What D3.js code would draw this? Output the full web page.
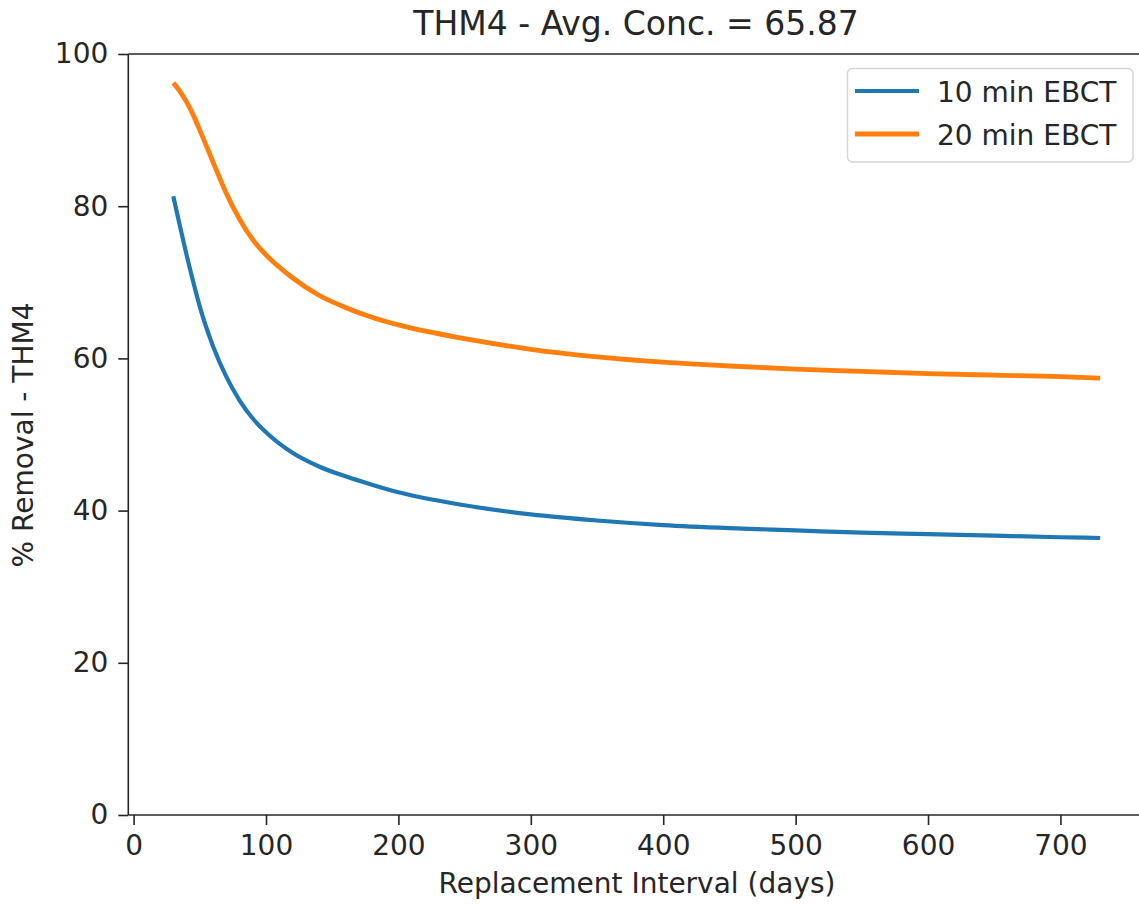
<!DOCTYPE html>
<html>
<head>
<meta charset="utf-8">
<script src="https://cdn.jsdelivr.net/npm/d3@7"></script>
<style>
  body { margin: 0; background: #fff; }
  svg text { font-family: "DejaVu Sans", sans-serif; fill: #262626; }
</style>
</head>
<body>
<svg id="chart" width="1139" height="904"></svg>
<script>
// replacement interval (days)
days = [30, 35, 40, 45, 50, 60, 70, 80, 90, 100, 120, 140, 160, 180, 200, 250, 300, 350, 400, 450, 500, 550, 600, 650, 700, 730];
// % removal, 10 min EBCT
ebct10 = [81.3, 77.4, 73.6, 70.1, 66.8, 61.6, 57.6, 54.5, 52.1, 50.3, 47.6, 45.8, 44.5, 43.4, 42.4, 40.7, 39.5, 38.7, 38.1, 37.7, 37.4, 37.1, 36.9, 36.7, 36.5, 36.4];
// % removal, 20 min EBCT
ebct20 = [96.2, 95.1, 93.7, 92.0, 90.0, 85.8, 81.7, 78.3, 75.6, 73.6, 70.6, 68.3, 66.7, 65.4, 64.4, 62.6, 61.2, 60.2, 59.5, 59.0, 58.6, 58.3, 58.0, 57.8, 57.6, 57.4];
seriesNames = ["10 min EBCT", "20 min EBCT"];
xTicks = [0, 100, 200, 300, 400, 500, 600, 700];
yTicks = [0, 20, 40, 60, 80, 100];

var svg = d3.select("#chart");
// plot box (the right spine sits just outside the frame)
var plotL = 128.3, plotR = 1146.5, plotT = 54, plotB = 815;

var x = d3.scaleLinear().domain([-4, 765]).range([plotL, plotR]);
var y = d3.scaleLinear().domain([0, 100]).range([plotB, plotT]);

// axes
var xAxis = svg.append("g")
  .attr("transform", "translate(0," + plotB + ")")
  .call(d3.axisBottom(x).tickValues(xTicks).tickSizeInner(10).tickSizeOuter(0).tickPadding(10));
var yAxis = svg.append("g")
  .attr("transform", "translate(" + plotL + ",0)")
  .call(d3.axisLeft(y).tickValues(yTicks).tickSizeInner(10).tickSizeOuter(0).tickPadding(10));

[xAxis, yAxis].forEach(function(g) {
  g.select(".domain").remove();
  g.selectAll(".tick line").attr("stroke", "#262626").attr("stroke-width", 1.6);
  g.selectAll(".tick text").attr("font-size", 28).attr("fill", "#262626")
    .style("font-family", "DejaVu Sans, sans-serif");
});

// spines
svg.append("line").attr("x1", plotL).attr("x2", plotL).attr("y1", plotT).attr("y2", plotB)
  .attr("stroke", "#262626").attr("stroke-width", 1.6);
svg.append("line").attr("x1", plotL).attr("x2", plotR).attr("y1", plotB).attr("y2", plotB)
  .attr("stroke", "#262626").attr("stroke-width", 1.6);
svg.append("line").attr("x1", plotL).attr("x2", plotR).attr("y1", plotT).attr("y2", plotT)
  .attr("stroke", "#262626").attr("stroke-width", 1.6);

// lines
var line = d3.line()
  .x(function(d) { return x(d[0]); })
  .y(function(d) { return y(d[1]); })
  .curve(d3.curveMonotoneX);

var colors = ["#1f77b4", "#ff7f0e"];
var widths = [4.2, 4.8];
[ebct10, ebct20].forEach(function(vals, i) {
  svg.append("path")
    .datum(days.map(function(d, j) { return [d, vals[j]]; }))
    .attr("fill", "none")
    .attr("stroke", colors[i])
    .attr("stroke-width", widths[i])
    .attr("d", line);
});

// title and labels
svg.append("text").attr("x", 636).attr("y", 35).attr("text-anchor", "middle")
  .attr("font-size", 33).text("THM4 - Avg. Conc. = 65.87");
svg.append("text").attr("x", 637).attr("y", 893).attr("text-anchor", "middle")
  .attr("font-size", 28).text("Replacement Interval (days)");
svg.append("text").attr("transform", "translate(33,435) rotate(-90)").attr("text-anchor", "middle")
  .attr("font-size", 28).text("% Removal - THM4");

// legend
var legend = svg.append("g");
legend.append("rect").attr("x", 847.5).attr("y", 68.5).attr("width", 285.5).attr("height", 93.5)
  .attr("rx", 5).attr("fill", "#fff").attr("fill-opacity", 0.8)
  .attr("stroke", "#d6d6d6").attr("stroke-width", 1.5);
seriesNames.forEach(function(name, i) {
  var ly = 91 + i * 43;
  legend.append("line").attr("x1", 855).attr("x2", 919).attr("y1", ly).attr("y2", ly)
    .attr("stroke", colors[i]).attr("stroke-width", widths[i]);
  legend.append("text").attr("x", 937).attr("y", ly + 11).attr("font-size", 28).text(name);
});
</script>
</body>
</html>
